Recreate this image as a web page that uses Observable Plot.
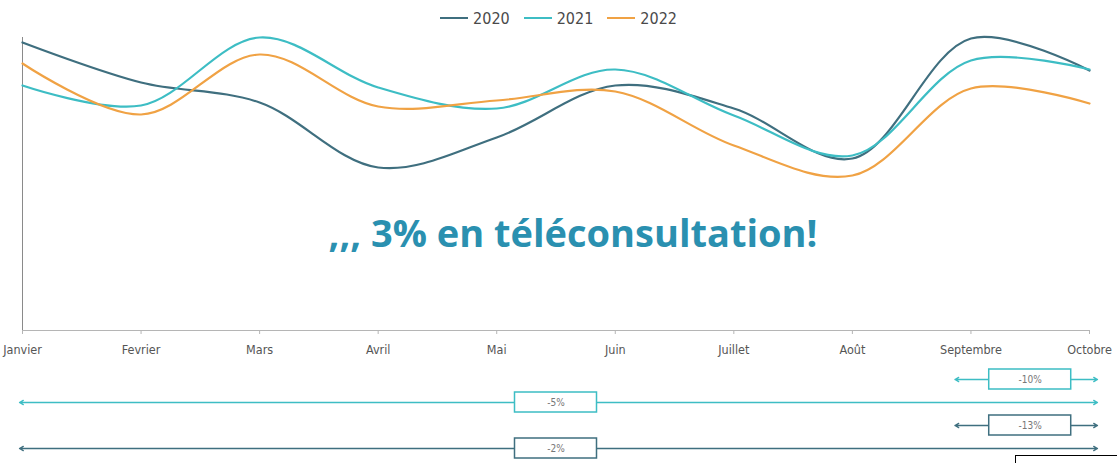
<!DOCTYPE html>
<html>
<head>
<meta charset="utf-8">
<script src="https://cdn.jsdelivr.net/npm/d3@7"></script>
<script src="https://cdn.jsdelivr.net/npm/@observablehq/plot@0.6"></script>
<style>
  html, body { margin: 0; padding: 0; background: #fff; width: 1117px; height: 463px; overflow: hidden; position: relative; }
  #legend { height: 36px; display: flex; justify-content: center; align-items: center; gap: 14px; font-family: "DejaVu Sans Condensed", "DejaVu Sans", sans-serif; font-size: 16px; color: #4a4a4a; padding-left: 0px; box-sizing: border-box; }
  .item { display: flex; align-items: center; gap: 5px; }
  .sw { width: 28px; height: 2px; display: inline-block; }
  #corner { position: absolute; left: 1015px; top: 455px; width: 110px; height: 20px; border: 1px solid #000; box-sizing: border-box; }
</style>
</head>
<body>
<div id="legend"></div>
<div id="main"></div>
<div id="notes"></div>
<div id="corner"></div>
<script>
const months = ["Janvier", "Fevrier", "Mars", "Avril", "Mai", "Juin", "Juillet", "Août", "Septembre", "Octobre"];
const years = ["2020", "2021", "2022"];
const colors = ["#3f6f7f", "#3dbdc4", "#f0a244"];
const values2020 = [288, 248, 228, 163, 193, 245, 222, 172, 292, 260];
const values2021 = [245, 225, 293, 243, 222, 261, 215, 175, 270, 261];
const values2022 = [267, 216, 276, 224, 230, 239, 185, 155, 242, 227];
const headline = ",,, 3% en téléconsultation!";
const noteLabels = ["-10%", "-5%", "-13%", "-2%"];
const noteFrom = ["Septembre", "Janvier", "Septembre", "Janvier"];
const noteTo = ["Octobre", "Octobre", "Octobre", "Octobre"];
const noteYear = ["2021", "2021", "2020", "2020"];

const series = [values2020, values2021, values2022];
const data = [];
series.forEach((vals, s) => vals.forEach((v, i) => data.push({year: years[s], month: i, value: v})));

const colorOf = Object.fromEntries(years.map((y, i) => [y, colors[i]]));

// Legend
const leg = document.getElementById("legend");
years.forEach((y, i) => {
  const it = document.createElement("div");
  it.className = "item";
  it.innerHTML = `<span class="sw" style="background:${colors[i]}"></span><span>${y}</span>`;
  leg.appendChild(it);
});

const W = 1117;
const monthIdx = d3.range(months.length);
const xOpts = {type: "linear", domain: [0, months.length - 1], range: [22, 1089]};

const main = Plot.plot({
  width: W,
  height: 324,
  marginTop: 1,
  marginBottom: 30,
  marginLeft: 22,
  marginRight: 28,
  x: {...xOpts, axis: null},
  y: {domain: [0, 293], axis: null},
  style: {fontFamily: "DejaVu Sans Condensed, DejaVu Sans, sans-serif", overflow: "visible"},
  marks: [
    Plot.ruleY([0], {stroke: "#b5b5b5", strokeWidth: 1}),
    Plot.ruleX([0], {y1: 0, y2: 293, stroke: "#8a8a8a", strokeWidth: 1}),
    Plot.axisX(monthIdx, {tickFormat: i => months[i], tickSize: 4, tickPadding: 11, fontSize: 12.5, stroke: "#b5b5b5", color: "#555", anchor: "bottom", label: null}),
    Plot.line(data, {x: "month", y: "value", z: "year", stroke: d => colorOf[d.year], strokeWidth: 2.2, curve: "catmull-rom"}),
    Plot.text([headline], {frameAnchor: "middle", dx: 17, dy: 51, text: d => d, fontSize: 38, fontWeight: "bold", fill: "#2a90b0", fontFamily: "Open Sans, sans-serif"})
  ]
});
document.getElementById("main").appendChild(main);

// Annotation rows
const idx = m => months.indexOf(m);
const notes = noteLabels.map((l, i) => ({
  row: i, label: l, from: idx(noteFrom[i]), to: idx(noteTo[i]),
  mid: (idx(noteFrom[i]) + idx(noteTo[i])) / 2,
  color: colorOf[noteYear[i]], short: idx(noteTo[i]) - idx(noteFrom[i]) < 2
}));

const notesPlot = Plot.plot({
  width: W,
  height: 103,
  marginTop: 18,
  marginBottom: 15,
  marginLeft: 22,
  marginRight: 28,
  x: {...xOpts, axis: null},
  y: {type: "point", domain: [0, 1, 2, 3], padding: 0, axis: null},
  style: {fontFamily: "DejaVu Sans Condensed, DejaVu Sans, sans-serif", overflow: "visible"},
  marks: [
    Plot.arrow(notes.filter(d => d.short), {x1: "mid", x2: "from", y1: "row", y2: "row", stroke: "color", strokeWidth: 1.3, headLength: 5, insetStart: 41, insetEnd: -16}),
    Plot.arrow(notes.filter(d => !d.short), {x1: "mid", x2: "from", y1: "row", y2: "row", stroke: "color", strokeWidth: 1.3, headLength: 5, insetStart: 41, insetEnd: -3}),
    Plot.arrow(notes, {x1: "mid", x2: "to", y1: "row", y2: "row", stroke: "color", strokeWidth: 1.3, headLength: 5, insetStart: 41, insetEnd: -8}),
    Plot.rect(notes, {x1: d => d.mid, x2: d => d.mid, y1: "row", y2: "row", insetLeft: -41, insetRight: -41, insetTop: -10, insetBottom: -10, fill: "white", stroke: "color", strokeWidth: 1.5}),
    Plot.text(notes, {x: "mid", y: "row", text: "label", fontSize: 10, fill: "#777"})
  ]
});
document.getElementById("notes").appendChild(notesPlot);
</script>
</body>
</html>
